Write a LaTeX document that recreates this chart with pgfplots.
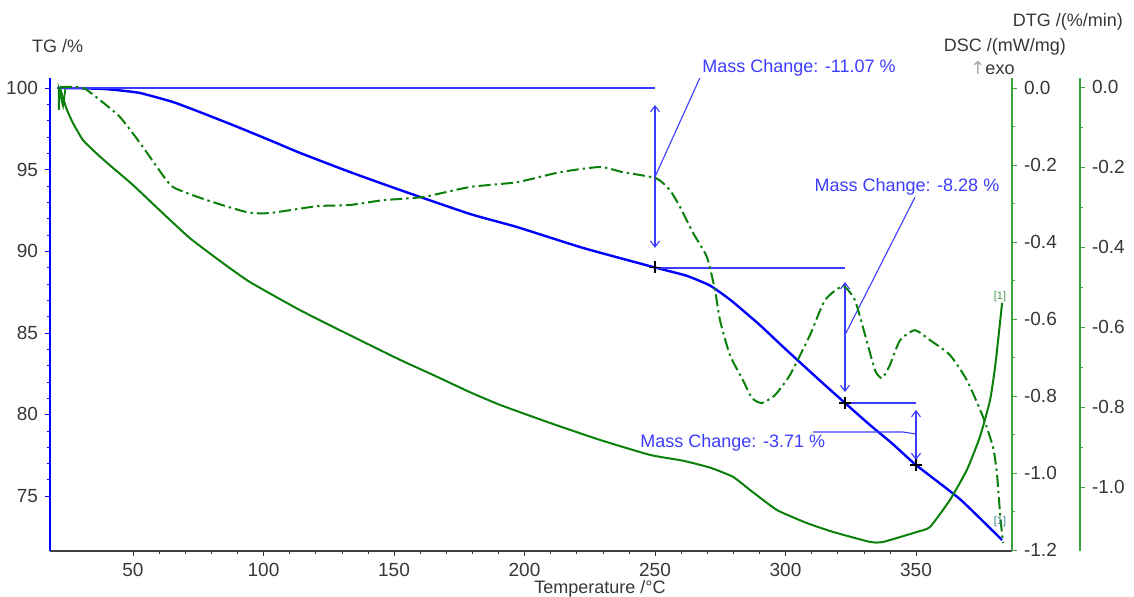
\documentclass[border=0pt]{standalone}
\usepackage{fontspec}
\setmainfont{Liberation Sans}
\newfontfamily\symfont{DejaVu Sans}
\usepackage{pgfplots}
\pgfplotsset{compat=1.18}
\usetikzlibrary{arrows.meta}

\definecolor{tgblue}{RGB}{0,0,255}
\definecolor{annblue}{RGB}{60,60,255}
\definecolor{dgreen}{RGB}{10,128,10}
\definecolor{agreen}{RGB}{60,160,60}
\definecolor{lbl}{RGB}{55,55,55}

\pgfplotsset{
  base/.style={
    scale only axis, width=481pt, height=236.5pt,
    xmin=18.2, xmax=386.79,
    tick align=outside, major tick length=2.5pt, minor tick length=1.5pt,
    tick label style={font=\fontsize{9.5}{11}\selectfont, text=lbl},
    /pgf/number format/assume math mode=true,
    clip=false,
  },
  greeny/.style={
    axis y line*=right, axis x line=none,
    y axis line style={agreen, line width=0.8pt},
    ytick style={agreen},
    yticklabel style={/pgf/number format/.cd, fixed, fixed zerofill, precision=1},
    minor y tick num=1,
  },
}

\tikzset{ann/.style={annblue, line width=0.55pt},
  bar/.style={ann, {Straight Barb[length=3pt,width=4.5pt]}-{Straight Barb[length=3pt,width=4.5pt]}}}

\begin{document}
\begin{tikzpicture}
% TG
\begin{axis}[base,
  axis x line*=bottom, axis y line*=left,
  ymin=71.63, ymax=100.61,
  xtick={50,100,...,350}, minor x tick num=4,
  ytick={75,80,...,100}, minor y tick num=4,
  x axis line style={black!75, line width=0.7pt},
  y axis line style={tgblue, line width=0.8pt},
  xtick style={black!80}, ytick style={tgblue},
]
\addplot[tgblue, line width=1.2pt, smooth, tension=0.3] coordinates {
 (22,100) (30,99.98) (38.5,99.94) (45,99.85) (52.7,99.69) (65.3,99.14) (78.4,98.35)
 (91,97.55) (103.6,96.72) (114,96.02) (133.1,94.85) (152.3,93.75) (179.1,92.28)
 (197.1,91.48) (222.4,90.20) (250,89.0) (262,88.5) (271,87.9) (279,87.0) (290,85.5)
 (300,84.0) (313,82.1) (322.8,80.7) (332,79.4) (341,78.2) (350,76.9) (366.9,74.8)
 (383,72.3)};
\addplot[only marks, mark=+, mark size=3pt, black, mark options={line width=0.6pt}]
  coordinates {(250,89.0) (322.8,80.7) (350,76.9)};
% mass change 1
\draw[ann] (axis cs:21,100) -- (axis cs:250,100);
\draw[bar] (axis cs:250,98.96) -- (axis cs:250,90.2);
\draw[ann] (axis cs:250,88.97) -- (axis cs:322.8,88.97);
\draw[ann] (axis cs:250,94.55) -- (axis cs:267.2,100.61);
\node[annblue, anchor=south west, inner sep=1pt, font=\fontsize{9}{10}\selectfont]
  at (axis cs:267.2,100.6) {Mass Change: -11.07 \%};
% mass change 2
\draw[bar] (axis cs:322.8,88.11) -- (axis cs:322.8,81.37);
\draw[ann] (axis cs:322.8,80.7) -- (axis cs:350,80.7);
\draw[ann] (axis cs:322.8,84.87) -- (axis cs:349.6,93.3);
\node[annblue, anchor=south west, inner sep=1pt, font=\fontsize{9}{10}\selectfont]
  at (axis cs:310.2,93.3) {Mass Change: -8.28 \%};
% mass change 3
\draw[bar] (axis cs:350,80.27) -- (axis cs:350,77.2);
\draw[ann] (axis cs:310.6,78.92) -- (axis cs:345,78.92) -- (axis cs:350,78.8);
\node[annblue, anchor=west, inner sep=1pt, font=\fontsize{9}{10}\selectfont]
  at (axis cs:243.5,78.25) {Mass Change: -3.71 \%};
\end{axis}
% DSC
\begin{axis}[base, greeny,
  ymin=-1.2026, ymax=0.026,
  ytick={-1.2,-1.0,-0.8,-0.6,-0.4,-0.2,0},
]
\addplot[dgreen, line width=1pt, smooth, tension=0.3] coordinates {
 (22,0) (23.2,-0.026) (24.7,-0.057) (27,-0.091) (30.8,-0.135) (35.4,-0.166)
 (40,-0.194) (45,-0.223) (50,-0.252) (60.3,-0.318) (71.8,-0.390) (84.5,-0.455)
 (94.8,-0.504) (114,-0.577) (133.1,-0.642) (152.3,-0.706) (164.9,-0.745)
 (179.1,-0.790) (190.6,-0.823) (209.8,-0.870) (228.9,-0.914) (248.1,-0.953)
 (260.7,-0.968) (271.1,-0.986) (279.9,-1.010) (286.4,-1.044) (296.7,-1.096)
 (308.2,-1.130) (318.2,-1.153) (332.4,-1.179) (337.4,-1.179) (350.4,-1.153)
 (355.4,-1.140) (363.0,-1.070) (369.5,-0.992) (374.5,-0.906) (378.4,-0.810)
 (380.5,-0.714) (383,-0.558)};
\addplot[dgreen, line width=0.9pt] coordinates {
 (21.6,-0.057) (21.6,-0.004) (23.2,-0.046) (24.1,-0.002)};
\end{axis}
% DTG
\begin{axis}[base, greeny, width=515pt, xmax=412.84,
  ymin=-1.16, ymax=0.0225,
  ytick={-1.0,-0.8,-0.6,-0.4,-0.2,0},
]
\addplot[dgreen, line width=1pt, smooth, tension=0.35,
  dash pattern=on 6pt off 2pt on 1.2pt off 2pt] coordinates {
 (22,0) (30.8,-0.002) (37.4,-0.033) (45,-0.075) (52.7,-0.140) (59.2,-0.200)
 (65.3,-0.250) (78.4,-0.283) (93.7,-0.313) (102.5,-0.315) (120.5,-0.298)
 (133.1,-0.295) (145.8,-0.283) (161.1,-0.275) (179.1,-0.250) (197.1,-0.238)
 (213.6,-0.213) (228.9,-0.200) (237.7,-0.213) (250.4,-0.228) (255.7,-0.258)
 (259.6,-0.300) (264.6,-0.365) (269.9,-0.425) (273,-0.508) (274.9,-0.583)
 (278.7,-0.670) (283.7,-0.733) (287.2,-0.778) (291,-0.790) (296,-0.770)
 (301.7,-0.720) (309.4,-0.620) (315.1,-0.533) (322,-0.498) (326.6,-0.533)
 (330.5,-0.620) (334.3,-0.708) (337,-0.728) (340,-0.695) (343.9,-0.633)
 (349.6,-0.608) (355.4,-0.633) (363,-0.670) (369.5,-0.733) (375.7,-0.825)
 (379.5,-0.900) (381,-0.965) (382.2,-1.065) (383.3,-1.140)};
\end{axis}
% titles and labels
\node[lbl, anchor=west, font=\fontsize{9}{10}\selectfont] at (-12.5pt,252.5pt) {TG /\%};
\node[lbl, anchor=east, font=\fontsize{9}{10}\selectfont] at (540pt,264.5pt) {DTG /(\%/min)};
\node[lbl, anchor=east, font=\fontsize{9}{10}\selectfont] at (511.5pt,252pt) {DSC /(mW/mg)};
\node[anchor=west, inner sep=0pt, font=\fontsize{9}{10}\selectfont] at (460pt,241.5pt)
  {\textcolor{black!35}{\symfont ↑}\textcolor{lbl}{exo}};
\node[lbl, font=\fontsize{9}{10}\selectfont] at (275pt,-19pt) {Temperature /°C};
\node[agreen!80!gray, font=\fontsize{5.5}{6}\selectfont, inner sep=0pt] at (475pt,127pt) {[1]};
\node[teal!60!gray, font=\fontsize{5.5}{6}\selectfont, inner sep=0pt] at (475pt,14.5pt) {[1]};
\pgfresetboundingbox
\useasboundingbox (-25pt,-22.5pt) rectangle (542pt,275.5pt);
\end{tikzpicture}
\end{document}
